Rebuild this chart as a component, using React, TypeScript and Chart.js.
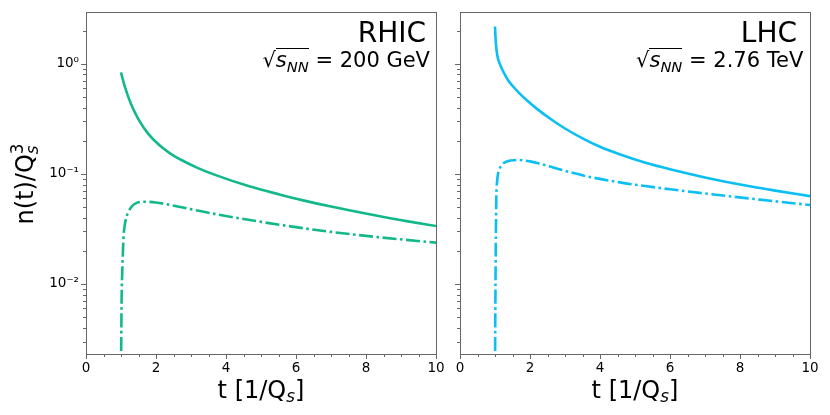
import { useEffect, useRef } from "react";
import { Chart, registerables } from "chart.js";

Chart.register(...registerables);

// RHIC, sqrt(s_NN) = 200 GeV -- solid curve
const rhicSolidT = [1.0, 1.04, 1.08, 1.115, 1.2, 1.31, 1.5, 1.78, 2.1, 2.4, 2.74, 3.2, 3.69, 4.64, 5.55, 6.2, 7.0, 8.4, 9.2, 10.0];
const rhicSolidN = [0.834, 0.7415, 0.667, 0.612, 0.5075, 0.413, 0.3128, 0.2307, 0.1815, 0.1536, 0.1328, 0.1128, 0.0978, 0.0774, 0.0647, 0.0574, 0.0504, 0.0411, 0.037, 0.0336];
// RHIC -- dash-dot curve
const rhicDashT = [1.0, 1.01, 1.02, 1.035, 1.05, 1.07, 1.1, 1.16, 1.22, 1.31, 1.45, 1.7, 2.0, 2.4, 2.74, 3.26, 3.8, 4.45, 5.55, 7.0, 8.4, 10.0];
const rhicDashN = [0.0015, 0.004, 0.0083, 0.0125, 0.0175, 0.026, 0.033, 0.041, 0.0458, 0.0507, 0.0545, 0.0558, 0.0549, 0.0522, 0.0497, 0.0459, 0.0425, 0.0391, 0.0344, 0.0297, 0.0265, 0.0237];

// LHC, sqrt(s_NN) = 2.76 TeV -- solid curve
const lhcSolidT = [1.0, 1.01, 1.02, 1.04, 1.07, 1.1, 1.13, 1.2, 1.28, 1.36, 1.5, 1.7, 1.9, 2.2, 2.6, 3.0, 3.5, 4.0, 4.6, 5.3, 6.0, 7.0, 8.0, 9.0, 10.0];
const lhcSolidN = [2.18, 1.85, 1.62, 1.36, 1.17, 1.07, 1.01, 0.895, 0.8, 0.72, 0.631, 0.538, 0.468, 0.389, 0.313, 0.258, 0.21, 0.176, 0.149, 0.126, 0.11, 0.0928, 0.08, 0.0704, 0.0627];
// LHC -- dash-dot curve
const lhcDashT = [1.0, 1.01, 1.02, 1.03, 1.04, 1.06, 1.08, 1.12, 1.2, 1.3, 1.45, 1.65, 2.0, 2.3, 2.66, 3.1, 3.61, 4.57, 5.4, 6.0, 7.14, 8.57, 10.0];
const lhcDashN = [0.0015, 0.006, 0.019, 0.04, 0.067, 0.085, 0.097, 0.109, 0.121, 0.128, 0.132, 0.1335, 0.1297, 0.123, 0.1144, 0.1043, 0.0952, 0.0836, 0.0766, 0.0724, 0.0655, 0.0583, 0.0521];

const colliders = ["RHIC", "LHC"];
const energies = ["200 GeV", "2.76 TeV"];

const xMin = 0;
const xMax = 10;
const yMin = 0.00231;
const yMax = 2.95;
const xMajorTicks = [0, 2, 4, 6, 8, 10];
const yMajorTicks = [0.01, 0.1, 1];
const yTickLabels = ["10⁻²", "10⁻¹", "10⁰"];

const rhicColor = "#13b88a";
const lhcColor = "#0bbff2";
const axisGrey = "#666666";
const FONT = "'DejaVu Sans', sans-serif";

// box around the plot + matplotlib-like major/minor tick marks
const framePlugin = {
  id: "frame",
  afterDraw(chart: any) {
    const { ctx, chartArea: a } = chart;
    const xs = chart.scales.x;
    const ys = chart.scales.y;
    ctx.save();
    ctx.strokeStyle = axisGrey;
    ctx.lineWidth = 1;
    ctx.strokeRect(a.left + 0.5, a.top + 0.5, a.right - a.left, a.bottom - a.top);
    ctx.beginPath();
    for (let e = -3; e <= 0; e++) {
      for (let m = 1; m <= 9; m++) {
        const v = m * Math.pow(10, e);
        if (v < yMin || v > yMax) continue;
        const py = Math.round(ys.getPixelForValue(v)) + 0.5;
        const len = m === 1 ? 5 : 3;
        ctx.moveTo(a.left - len, py);
        ctx.lineTo(a.left, py);
      }
    }
    for (let i = 0; i <= 20; i++) {
      const px = Math.round(xs.getPixelForValue(i / 2)) + 0.5;
      const len = i % 4 === 0 ? 5 : 3;
      ctx.moveTo(px, a.bottom);
      ctx.lineTo(px, a.bottom + len);
    }
    ctx.stroke();
    ctx.restore();
  },
};

type PanelProps = {
  left: number;
  width: number;
  yWidth: number;
  padRight: number;
  color: string;
  solidT: number[];
  solidN: number[];
  dashT: number[];
  dashN: number[];
  yLabels: boolean;
};

const Panel: React.FC<PanelProps> = (props) => {
  const chartRef = useRef<HTMLCanvasElement | null>(null);

  useEffect(() => {
    if (!chartRef.current) return;
    const toPoints = (t: number[], n: number[]) => t.map((v, i) => ({ x: v, y: n[i] }));
    const myChart = new Chart(chartRef.current, {
      type: "line",
      data: {
        datasets: [
          {
            data: toPoints(props.solidT, props.solidN),
            borderColor: props.color,
            borderWidth: 2.6,
            pointRadius: 0,
            cubicInterpolationMode: "monotone",
            borderCapStyle: "butt",
          },
          {
            data: toPoints(props.dashT, props.dashN),
            borderColor: props.color,
            borderWidth: 2.6,
            borderDash: [14, 3.5, 2.6, 3.5],
            pointRadius: 0,
            cubicInterpolationMode: "monotone",
            borderCapStyle: "butt",
          },
        ],
      },
      options: {
        responsive: false,
        animation: false,
        events: [],
        layout: { padding: { left: 0, right: props.padRight, top: 12, bottom: 0 } },
        plugins: { legend: { display: false }, tooltip: { enabled: false } },
        scales: {
          x: {
            type: "linear",
            min: xMin,
            max: xMax,
            grid: { display: false, drawTicks: false },
            border: { display: false },
            afterBuildTicks: (s: any) => {
              s.ticks = xMajorTicks.map((v) => ({ value: v }));
            },
            ticks: {
              color: "#000",
              font: { family: FONT, size: 13.5 },
              padding: 6,
              maxRotation: 0,
              autoSkip: false,
            },
            afterFit: (s: any) => {
              s.height = 61;
              s.paddingLeft = 0;
              s.paddingRight = 0;
            },
          },
          y: {
            type: "logarithmic",
            min: yMin,
            max: yMax,
            grid: { display: false, drawTicks: false },
            border: { display: false },
            afterBuildTicks: (s: any) => {
              s.ticks = yMajorTicks.map((v) => ({ value: v }));
            },
            ticks: {
              display: props.yLabels,
              color: "#000",
              font: { family: FONT, size: 13.5 },
              padding: 7,
              callback: (_v: any, i: number) => yTickLabels[i],
            },
            afterFit: (s: any) => {
              s.width = props.yWidth;
              s.paddingTop = 0;
              s.paddingBottom = 0;
            },
          },
        },
      } as any,
      plugins: [framePlugin],
    });
    return () => myChart.destroy();
  }, []);

  return (
    <canvas
      ref={chartRef}
      width={props.width}
      height={415}
      style={{ position: "absolute", left: props.left, top: 0 }}
    />
  );
};

const XTitle: React.FC<{ center: number }> = ({ center }) => (
  <div
    style={{
      position: "absolute",
      left: center - 100,
      width: 200,
      top: 377.7,
      textAlign: "center",
      fontSize: 24,
      lineHeight: "24px",
      whiteSpace: "nowrap",
    }}
  >
    t [1/Q
    <span style={{ fontSize: "0.7em", fontStyle: "italic", position: "relative", top: "0.25em" }}>s</span>]
  </div>
);

const Annotation: React.FC<{ name: string; energy: string; nameRight: number; energyRight: number }> = (p) => (
  <>
    <div
      style={{
        position: "absolute",
        right: 830 - p.nameRight,
        top: 18.6,
        fontSize: 28,
        lineHeight: "28px",
        whiteSpace: "nowrap",
      }}
    >
      {p.name}
    </div>
    <div
      style={{
        position: "absolute",
        right: 830 - p.energyRight,
        top: 48.2,
        fontSize: 21,
        lineHeight: "21px",
        whiteSpace: "nowrap",
      }}
    >
      √
      <span style={{ display: "inline-block", borderTop: "1.3px solid #000", paddingTop: 1, lineHeight: "21px" }}>
        <span style={{ fontStyle: "italic" }}>s</span>
        <span style={{ fontSize: "0.7em", fontStyle: "italic", position: "relative", top: "0.3em" }}>NN</span>
      </span>{" "}
      = {p.energy}
    </div>
  </>
);

export default function App() {
  return (
    <div
      style={{
        position: "absolute",
        left: 0,
        top: 0,
        width: 830,
        height: 415,
        background: "#fff",
        fontFamily: FONT,
        color: "#000",
        overflow: "hidden",
      }}
    >
      <Panel
        left={0}
        width={450}
        yWidth={86}
        padRight={14}
        color={rhicColor}
        solidT={rhicSolidT}
        solidN={rhicSolidN}
        dashT={rhicDashT}
        dashN={rhicDashN}
        yLabels={true}
      />
      <Panel
        left={450}
        width={380}
        yWidth={10}
        padRight={20}
        color={lhcColor}
        solidT={lhcSolidT}
        solidN={lhcSolidN}
        dashT={lhcDashT}
        dashN={lhcDashN}
        yLabels={false}
      />
      <XTitle center={261} />
      <XTitle center={635} />
      <div
        style={{
          position: "absolute",
          left: 24.7 - 100,
          top: 184 - 12,
          width: 200,
          height: 24,
          lineHeight: "24px",
          fontSize: 24,
          textAlign: "center",
          whiteSpace: "nowrap",
          transform: "rotate(-90deg)",
        }}
      >
        n(t)/Q
        <span style={{ fontSize: "0.7em", fontStyle: "italic", position: "relative", top: "0.3em" }}>s</span>
        <span style={{ fontSize: "0.7em", position: "relative", top: "-0.6em", marginLeft: "-0.52em" }}>3</span>
      </div>
      <Annotation name={colliders[0]} energy={energies[0]} nameRight={426} energyRight={430} />
      <Annotation name={colliders[1]} energy={energies[1]} nameRight={797} energyRight={803.3} />
    </div>
  );
}
